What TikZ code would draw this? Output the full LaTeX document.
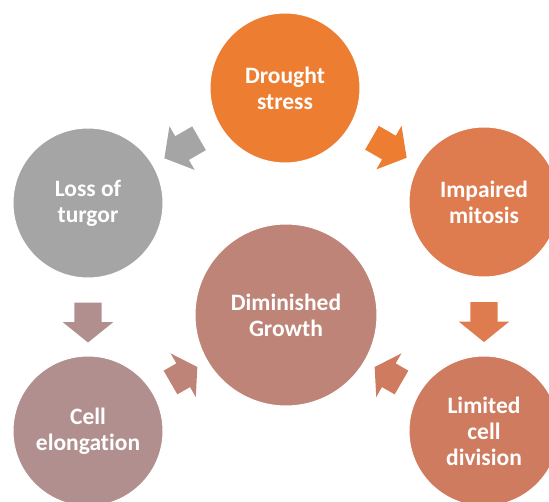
\documentclass[tikz,border=0pt]{standalone}
\usepackage{fontspec}
\setmainfont{Carlito}[Ligatures=NoCommon]
\usetikzlibrary{calc,shapes.arrows}

\begin{document}
\begin{tikzpicture}[x=1pt,y=1pt,
    stage/.style={circle, draw=white, line width=1pt, inner sep=0pt, outer sep=0pt,
        minimum size=150pt, text=white, align=center,
        font=\fontsize{23.5}{26}\selectfont\bfseries},
    bigarrow/.style={single arrow, draw=none, inner xsep=0pt, inner ysep=13.5pt, outer sep=0pt,
        single arrow head extend=11.5pt, single arrow tip angle=102, minimum height=40pt},
    smallarrow/.style={bigarrow, single arrow tip angle=114, minimum height=31pt}]

    % Colors for the circles and arrows
    \definecolor{droughtorange}{RGB}{237,125,49}
    \definecolor{mitosisorange}{RGB}{222,124,79}
    \definecolor{divisionred}{RGB}{207,123,96}
    \definecolor{growthrose}{RGB}{190,132,120}
    \definecolor{elongrose}{RGB}{176,143,142}
    \definecolor{turgorgray}{RGB}{165,165,165}

    \clip (0,0) rectangle (549,501);

    % Drought stress Circle
    \node[stage, fill=droughtorange] (drought) at (285,413) {Drought\\stress};

    % Loss of turgor Circle
    \node[stage, fill=turgorgray] (turgor) at (88,298) {Loss of\\turgor};

    % Impaired mitosis Circle
    \node[stage, fill=mitosisorange] (mitosis) at (484,299) {Impaired\\mitosis};

    % Diminished Growth Circle
    \node[stage, fill=growthrose, minimum size=182pt] (growth) at (286,186) {Diminished\\Growth};

    % Cell elongation Circle
    \node[stage, fill=elongrose] (elong) at (88,70) {Cell\\elongation};

    % Limited cell division Circle
    \node[stage, fill=divisionred] (division) at (484,70) {Limited\\cell\\division};

    % Arrows between the circles
    \node[bigarrow, fill=turgorgray, rotate=210] (a1) at ($(drought.210)!0.5!(turgor.30)$) {};
    \node[bigarrow, fill=droughtorange, rotate=-30] (a2) at ($(drought.-30)!0.5!(mitosis.150)$) {};
    \node[bigarrow, fill=elongrose, rotate=-90] (a3) at ($(turgor.south)!0.5!(elong.north)$) {};
    \node[bigarrow, fill=mitosisorange, rotate=-90] (a4) at ($(mitosis.south)!0.5!(division.north)$) {};
    \node[smallarrow, fill=growthrose, rotate=30] (a5) at ($(elong.30)!0.5!(growth.210)$) {};
    \node[smallarrow, fill=divisionred, rotate=150] (a6) at ($(division.150)!0.5!(growth.-30)$) {};

\end{tikzpicture}
\end{document}
